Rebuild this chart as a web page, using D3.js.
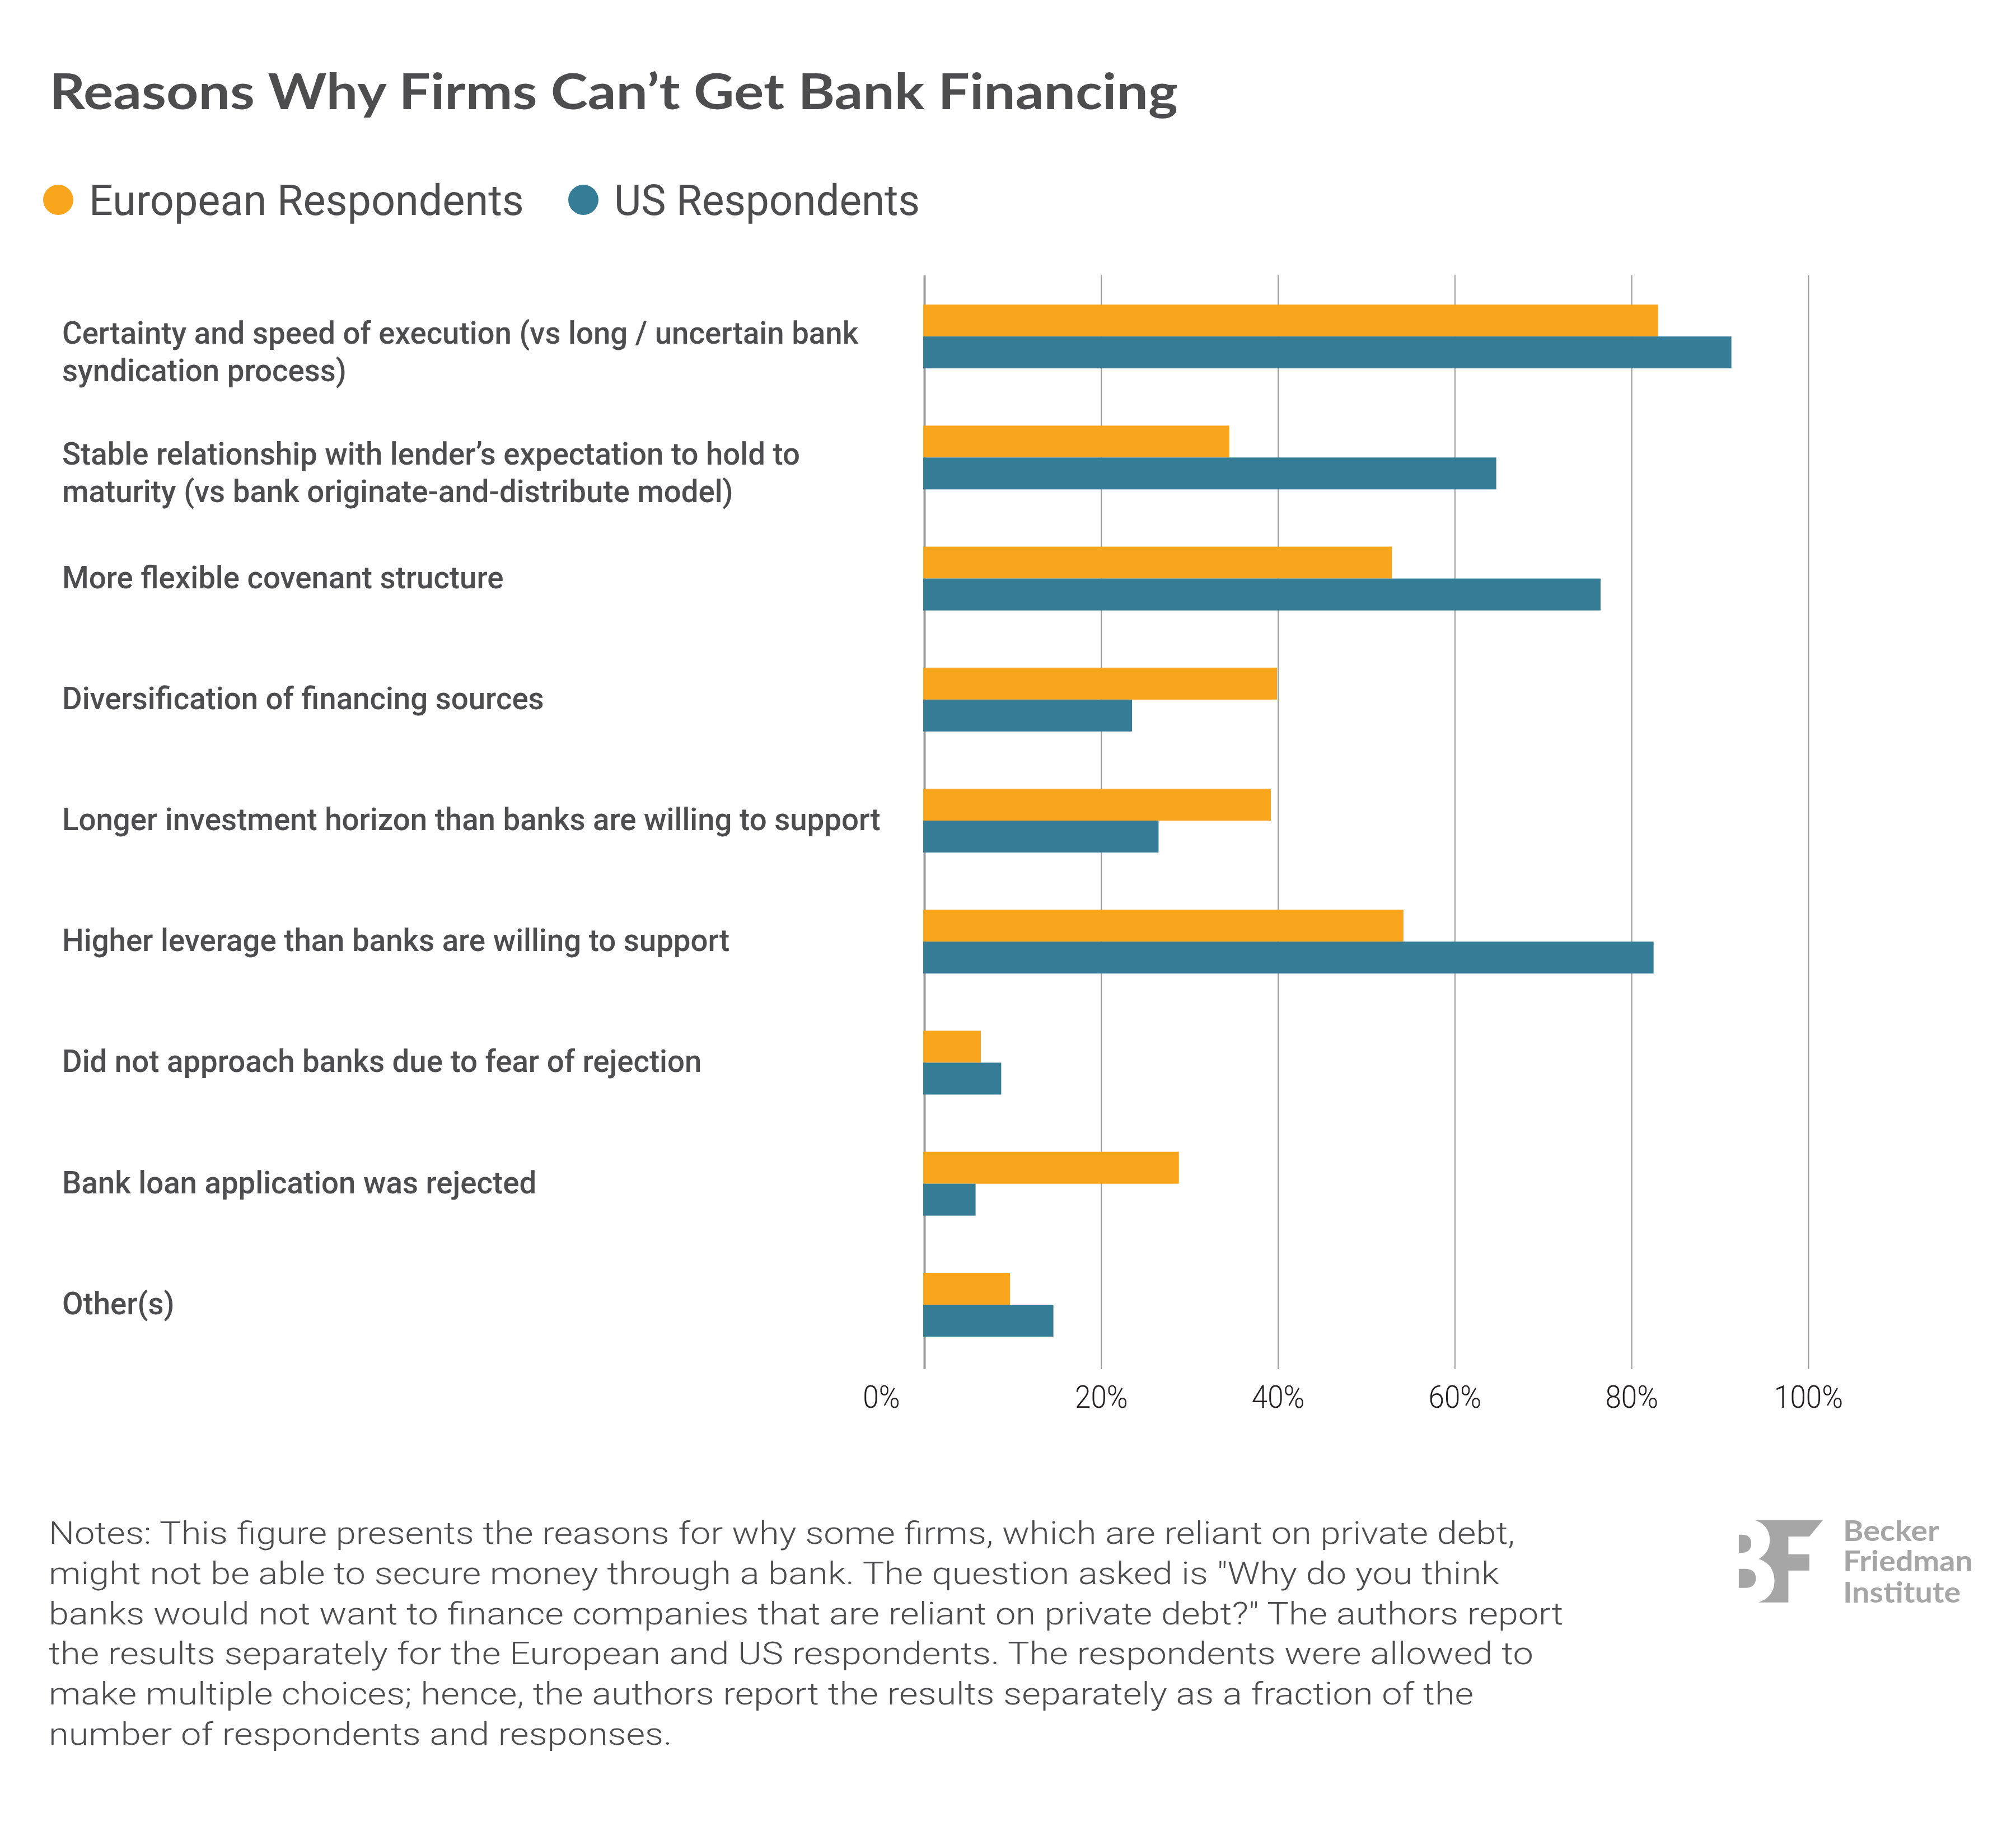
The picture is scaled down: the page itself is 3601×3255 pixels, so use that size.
<!DOCTYPE html>
<html>
<head>
<meta charset="utf-8">
<script src="https://cdn.jsdelivr.net/npm/d3@7"></script>
<style>
  html, body { margin: 0; padding: 0; background: #ffffff; }
  svg { display: block; }
</style>
</head>
<body>
<div id="chart"></div>
<script>
// ---------------- data ----------------
const titleText = "Reasons Why Firms Can\u2019t Get Bank Financing";
const seriesNames = ["European Respondents", "US Respondents"];
const seriesColors = ["#F9A61C", "#357C96"];
const categoryLines = [
  ["Certainty and speed of execution (vs long / uncertain bank", "syndication process)"],
  ["Stable relationship with lender\u2019s expectation to hold to", "maturity (vs bank originate-and-distribute model)"],
  ["More flexible covenant structure"],
  ["Diversification of financing sources"],
  ["Longer investment horizon than banks are willing to support"],
  ["Higher leverage than banks are willing to support"],
  ["Did not approach banks due to fear of rejection"],
  ["Bank loan application was rejected"],
  ["Other(s)"]
];
const categories = categoryLines.map(l => l.join(" "));
const european = [83.0, 34.5, 52.9, 39.9, 39.2, 54.2, 6.4, 28.8, 9.7];
const us = [91.3, 64.7, 76.5, 23.5, 26.5, 82.5, 8.7, 5.8, 14.6];
const tickValues = [0, 20, 40, 60, 80, 100];
const tickLabels = ["0%", "20%", "40%", "60%", "80%", "100%"];
const notesLines = [
  "Notes: This figure presents the reasons for why some firms, which are reliant on private debt,",
  "might not be able to secure money through a bank. The question asked is \"Why do you think",
  "banks would not want to finance companies that are reliant on private debt?\" The authors report",
  "the results separately for the European and US respondents. The respondents were allowed to",
  "make multiple choices; hence, the authors report the results separately as a fraction of the",
  "number of respondents and responses."
];
const logoLines = ["Becker", "Friedman", "Institute"];

// ---------------- layout ----------------
const W = 3601, H = 3255;
const textColor = "#4D4D4F";
const gridTop = 492, gridBottom = 2446;

const svg = d3.select("#chart").append("svg")
  .attr("width", W).attr("height", H)
  .attr("viewBox", `0 0 ${W} ${H}`);
svg.append("rect").attr("width", W).attr("height", H).attr("fill", "#ffffff");

// helper: place text and fit horizontally to a target width (uniform scale)
function placeText(parent, str, x, y, opts) {
  const g = parent.append("g").attr("transform", `translate(${x},${y})`);
  const t = g.append("text")
    .attr("x", 0).attr("y", 0)
    .attr("font-family", opts.family)
    .attr("font-size", opts.size)
    .attr("font-weight", opts.weight || 400)
    .attr("fill", opts.fill || textColor)
    .attr("text-anchor", opts.anchor || "start")
    .text(str);
  return { g, t };
}
function widthOf(t) { return t.node().getComputedTextLength(); }

// ---------------- title ----------------
{
  const { g, t } = placeText(svg, titleText, 88, 195, { family: "Lato", size: 88, weight: 700 });
  const s = 2016 / widthOf(t);
  g.attr("transform", `translate(88,195) scale(${s},1)`);
}

// ---------------- legend ----------------
{
  const legendX = [104, 1042];
  const legendTarget = [777, 546];
  seriesNames.forEach((name, i) => {
    svg.append("circle").attr("cx", legendX[i]).attr("cy", 357).attr("r", 27).attr("fill", seriesColors[i]);
    const tx = legendX[i] + 55;
    const { g, t } = placeText(svg, name, tx, 384, { family: "Roboto", size: 76, weight: 400 });
    const s = legendTarget[i] / widthOf(t);
    g.attr("transform", `translate(${tx},384) scale(${s},1)`);
  });
}

// ---------------- scales ----------------
const x = d3.scaleLinear().domain([0, 100]).range([1651, 3230]);
const y = d3.scaleBand().domain(categories).range([493, 2439])
  .paddingInner(0.4728).paddingOuter(0.2364);
const ys = d3.scaleBand().domain(seriesNames).range([0, y.bandwidth()]);

// ---------------- grid / axis ----------------
const axisG = svg.append("g")
  .attr("transform", `translate(0,${gridBottom})`)
  .call(d3.axisBottom(x).tickValues(tickValues)
    .tickSize(-(gridBottom - gridTop))
    .tickFormat((d, i) => tickLabels[i]));
axisG.select(".domain").remove();
axisG.selectAll(".tick line")
  .attr("stroke", "#9B9B9B")
  .attr("stroke-width", (d) => d === 0 ? 4 : 2);
const tickTexts = axisG.selectAll(".tick text")
  .attr("font-family", "Roboto")
  .attr("font-weight", 300)
  .attr("font-size", 56)
  .attr("fill", "#231F20")
  .attr("y", 69).attr("dy", 0);
{
  // fit tick labels: "100%" is ~123px wide in the reference
  let w100 = 0;
  tickTexts.each(function (d) { if (d === 100) w100 = this.getComputedTextLength(); });
  const s = 123 / w100;
  axisG.selectAll(".tick").each(function (d) {
    const tx = d3.select(this).select("text");
    if (d === 0) {
      tx.attr("text-anchor", "end").attr("transform", `translate(-44,0) scale(${s},1)`);
    } else {
      tx.attr("transform", `scale(${s},1)`);
    }
  });
}

// ---------------- bars ----------------
const rows = categories.map((c, i) => ({ cat: c, values: [european[i], us[i]] }));
const barG = svg.append("g");
rows.forEach(r => {
  r.values.forEach((v, j) => {
    barG.append("rect")
      .attr("x", x(0) - 2)
      .attr("y", y(r.cat) + ys(seriesNames[j]))
      .attr("width", x(v) - x(0) + 2)
      .attr("height", ys.bandwidth())
      .attr("fill", seriesColors[j]);
  });
});

// ---------------- category labels ----------------
{
  const labelG = svg.append("g");
  const items = [];
  categoryLines.forEach((lines, i) => {
    const c = y(categories[i]) + y.bandwidth() / 2;
    const first = lines.length > 1 ? c + 13 : c + 17;
    lines.forEach((ln, k) => {
      const by = first + k * 67;
      items.push(placeText(labelG, ln, 111, by, { family: "Roboto", size: 55, weight: 500 }));
      items[items.length - 1].by = by;
    });
  });
  const ref = items.find(it => it.t.text().startsWith("Longer"));
  const s = 1462 / widthOf(ref.t);
  items.forEach(it => it.g.attr("transform", `translate(111,${it.by}) scale(${s},1)`));
}

// ---------------- notes ----------------
{
  const notesG = svg.append("g");
  const items = notesLines.map((ln, i) => {
    const by = 2758 + i * 71.8;
    const it = placeText(notesG, ln, 87, by, { family: "Roboto", size: 56, weight: 300, fill: "#4D4D4F" });
    it.by = by;
    return it;
  });
  const s = 2619 / widthOf(items[0].t);
  items.forEach(it => it.g.attr("transform", `translate(87,${it.by}) scale(${s},1)`));
}

// ---------------- logo ----------------
{
  const logoColor = "#A6A6A6";
  const logoG = svg.append("g");
  // F with B-shaped left edge
  const p = d3.path();
  p.moveTo(3134.7, 2716);
  p.lineTo(3255.7, 2716);
  p.lineTo(3231.9, 2745);
  p.lineTo(3194.4, 2745);
  p.lineTo(3194.4, 2776.7);
  p.lineTo(3231.9, 2776.7);
  p.lineTo(3231.9, 2805.7);
  p.lineTo(3194.4, 2805.7);
  p.lineTo(3194.4, 2862.7);
  p.lineTo(3140.7, 2862.7);
  p.bezierCurveTo(3162, 2856, 3170, 2840, 3169.5, 2823.3);
  p.bezierCurveTo(3169, 2803, 3158, 2790, 3141.3, 2785);
  p.bezierCurveTo(3155, 2778, 3161.5, 2765, 3161.2, 2750);
  p.bezierCurveTo(3161, 2733, 3150, 2720, 3134.7, 2716);
  p.closePath();
  logoG.append("path").attr("d", p.toString()).attr("fill", logoColor);
  // B counters
  const c1 = d3.path();
  c1.moveTo(3105.9, 2741.7);
  c1.lineTo(3113, 2741.7);
  c1.bezierCurveTo(3124, 2742, 3128.1, 2749, 3128.1, 2757.8);
  c1.bezierCurveTo(3128.1, 2767, 3123, 2773.5, 3113, 2774);
  c1.lineTo(3105.9, 2774);
  c1.closePath();
  logoG.append("path").attr("d", c1.toString()).attr("fill", logoColor);
  const c2 = d3.path();
  c2.moveTo(3105.9, 2802.7);
  c2.lineTo(3118, 2802.7);
  c2.bezierCurveTo(3131, 2803, 3136.4, 2810, 3136.4, 2819.7);
  c2.bezierCurveTo(3136.4, 2830, 3130, 2836.5, 3118, 2836.7);
  c2.lineTo(3105.9, 2836.7);
  c2.closePath();
  logoG.append("path").attr("d", c2.toString()).attr("fill", logoColor);

  const baselines = [2753, 2807.3, 2862.7];
  const items = logoLines.map((ln, i) => {
    const it = placeText(logoG, ln, 3292, baselines[i], { family: "Lato", size: 52, weight: 700, fill: logoColor });
    it.by = baselines[i];
    return it;
  });
  const s = 232 / widthOf(items[1].t);
  items.forEach(it => it.g.attr("transform", `translate(3292,${it.by}) scale(${s},1)`));
}
</script>
</body>
</html>
